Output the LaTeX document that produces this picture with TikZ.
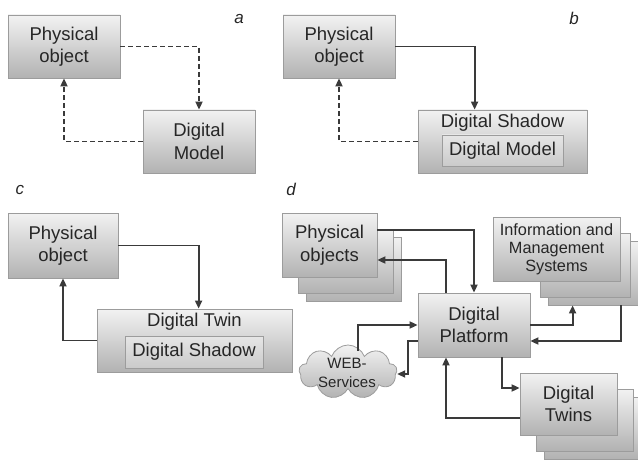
\documentclass[tikz,border=0pt]{standalone}
\usepackage{fontspec}
\setmainfont{Liberation Sans}
\usepackage{xcolor}
\usetikzlibrary{arrows.meta, calc, positioning, shapes.symbols}

\definecolor{boxtop}{HTML}{F2F2F2}
\definecolor{boxbot}{HTML}{B2B2B2}
\definecolor{boxline}{HTML}{9C9C9C}
\definecolor{intop}{HTML}{E6E6E6}
\definecolor{inbot}{HTML}{CACACA}
\definecolor{arrowc}{HTML}{3A3A3A}
\definecolor{textc}{HTML}{262626}

\begin{document}
\begin{tikzpicture}[
  x=1pt, y=-1pt,
  font=\fontsize{18.5}{22.5}\selectfont,
  >={Triangle[length=8pt,width=7pt]},
  wh/.style 2 args={minimum width=#1pt, minimum height=#2pt},
  block/.style={rectangle, draw=boxline, line width=0.8pt, top color=boxtop,
                bottom color=boxbot, text=textc, align=center, inner sep=0pt},
  inblock/.style={rectangle, draw=boxline, line width=0.6pt, top color=intop,
                  bottom color=inbot, text=textc, align=center, inner sep=0pt},
  cloudbox/.style={cloud, cloud puffs=9, cloud puff arc=140, cloud ignores aspect,
                   draw=boxline, line width=0.8pt, top color=boxtop, bottom color=boxbot,
                   inner sep=0pt},
  arrow/.style={->, draw=arrowc, line width=1.8pt},
  dasharrow/.style={arrow, dash pattern=on 5pt off 3pt},
  tag/.style={font=\fontsize{17}{20}\selectfont\itshape, text=textc}
]
\path[use as bounding box, clip] (0,0) rectangle (638,460);

% --- a: digital model ---
\node[tag] (ta) at (239,19) {a};
\node[block, wh={112}{63}] (poA) at (64,46.5) {Physical\\object};
\node[block, wh={112}{63}] (dmA) at (199,141.5) {Digital\\Model};
\draw[dasharrow] (poA.east) -| (dmA.north);
\draw[dasharrow] (dmA.west) -| (poA.south);

% --- b: digital shadow ---
\node[tag] (tb) at (574,18) {b};
\node[block, wh={112}{63}] (poB) at (339,46.5) {Physical\\object};
\node[block, wh={169}{63}] (dsB) at (502.5,141.5) {};
\node[text=textc] (dsBt) at (502.5,123) {Digital Shadow};
\node[inblock, wh={121}{31}] (dmB) at (502.5,150.5) {Digital Model};
\draw[arrow] (poB.east) -| ($(dsB.north west)+(57,0)$);
\draw[dasharrow] (dsB.west) -| (poB.south);

% --- c: digital twin ---
\node[tag] (tc) at (20,190) {c};
\node[block, wh={110}{65}] (poC) at (63,245.5) {Physical\\object};
\node[block, wh={195}{63}] (dtC) at (194.5,340.5) {};
\node[text=textc] (dtCt) at (194.5,322) {Digital Twin};
\node[inblock, wh={138}{32}] (dsC) at (194,352) {Digital Shadow};
\draw[arrow] (poC.east) -| ($(dtC.north west)+(102,0)$);
\draw[arrow] (dtC.west) -| (poC.south);

% --- d: digital platform ---
\node[tag] (td) at (291,189) {d};

% stacks (back copies first)
\foreach \k/\d in {2/24, 1/16} {
  \node[block, wh={95}{64}] (poD\k) at ($(329.5,245)+(\d,\d)$) {};
}
\node[block, wh={95}{64}] (poD) at (329.5,245) {Physical\\objects};

\node[block, wh={90}{64}] (imsD2) at (593,273) {};
\node[block, wh={90}{64}] (imsD1) at (585,265) {};
\node[block, wh={127}{64}, font=\fontsize{16.3}{18}\selectfont] (imsD) at (556.5,249)
  {Information and\\Management\\Systems};

\foreach \k/\d in {2/24, 1/16} {
  \node[block, wh={97}{62}] (twD\k) at ($(568.5,404)+(\d,\d)$) {};
}
\node[block, wh={97}{62}] (twD) at (568.5,404) {Digital\\Twins};

\node[block, wh={112}{64}] (dpD) at (474,325) {Digital\\Platform};

\node[cloudbox, wh={98}{54}] (web) at (348,372) {};
\node[text=textc, align=center, font=\fontsize{15}{19}\selectfont] (webt) at (347,373)
  {WEB-\\Services};

% arrows
\draw[arrow] ($(poD.east)+(0,-15)$) -| (dpD.north);
\draw[arrow] ($(dpD.north)+(-28,0)$) |- ($(poD.east)+(0,15)$);
\draw[arrow] (dpD.east) -| ($(imsD2.south west)+(25,0)$);
\draw[arrow] ($(imsD2.south west)+(73,0)$) |- ($(dpD.east)+(0,16)$);
\draw[arrow] ($(web.north)+(10,6)$) |- (dpD.west);
\draw[arrow] ($(dpD.west)+(0,16)$) -| ($(web.east)+(11,2)$) -- ($(web.east)+(0,2)$);
\draw[arrow] ($(dpD.south)+(28,0)$) |- ($(twD.west)+(0,-16)$);
\draw[arrow] ($(twD.west)+(0,14)$) -| ($(dpD.south)+(-28,0)$);
\end{tikzpicture}
\end{document}
